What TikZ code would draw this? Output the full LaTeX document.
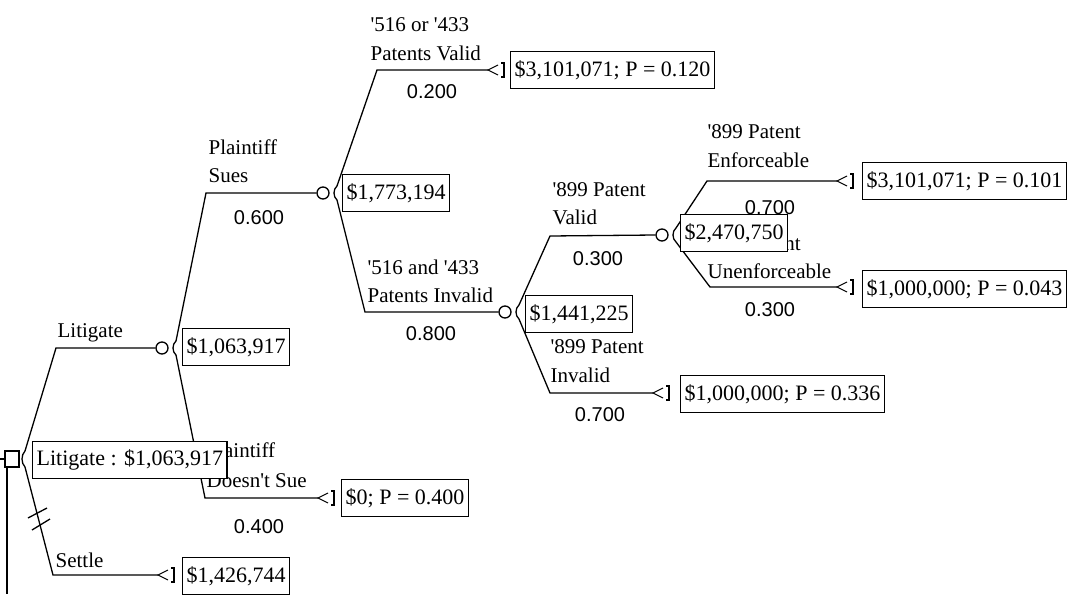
\documentclass[tikz,border=0pt]{standalone}
\usepackage{fontspec}
\setmainfont{Liberation Serif}
\newfontfamily\probfamily{Liberation Sans}
\newcommand\lblfont{\rmfamily\fontsize{21}{28}\selectfont}
\newcommand\valfont{\rmfamily\fontsize{22}{26}\selectfont}
\newcommand\pfont{\probfamily\fontsize{20}{24}\selectfont}
\newcommand\q{\textquotesingle}

\begin{document}
\begin{tikzpicture}[x=1pt,y=-1pt,line width=1.3pt,
  decision/.style={rectangle,draw,minimum width=14pt,minimum height=16pt,inner sep=0pt},
  chance/.style={circle,draw,minimum size=12pt,inner sep=0pt},
  valbox/.style={draw,fill=white,font=\valfont,inner xsep=4pt,inner ysep=0pt,minimum height=37pt,anchor=west},
  lbl/.style={font=\lblfont,inner sep=0pt,anchor=base west},
  prob/.style={font=\pfont,inner sep=0pt,anchor=base},
  termsym/.pic={
    \draw[line width=1.1pt] (10,-5) -- (0,0) -- (10,5);
    \draw[line width=1.1pt] (13,-7) -- (16,-7) -- (16,7) -- (13,7);
  }]
\useasboundingbox (0,0) rectangle (1078,594);

% ---------- decision node ----------
\node[decision] (D) at (12,459) {};
\coordinate (Din) at (0,459);
\coordinate (Dtail) at (7,594);
\draw (Din) -- (D.west);
\draw (D.south west -| Dtail) -- (Dtail);

\coordinate (f0a) at (25,451);
\coordinate (f0b) at (25,467);
\draw (f0a) .. controls (21,455) and (21,463) .. (f0b);
\coordinate (kLit) at (56,348);
\coordinate (kSet) at (53,575);
\coordinate (tSet) at (158,575);

% ---------- chance nodes ----------
\node[chance] (C1) at (162,348) {};
\node[chance] (C2) at (323,193) {};
\node[chance] (C3) at (505,312) {};
\node[chance] (C4) at (662,235) {};

% Litigate / Settle
\draw (f0a) -- (kLit) -- (C1.west);
\draw (f0b) -- (kSet) -- (tSet);
\pic at (tSet) {termsym};
\draw (28,518) -- (47,508);
\draw (32,530) -- (50,519);
\node[lbl] (lLit) at (57,337) {Litigate};
\node[lbl] (lSet) at (55,567) {Settle};

% Plaintiff sues / doesn't sue
\coordinate (f1a) at (176,341);
\coordinate (f1b) at (176,355);
\draw (f1a) .. controls (172,344) and (172,352) .. (f1b);
\coordinate (kSue) at (206,193);
\coordinate (kNo) at (205,498);
\coordinate (tNo) at (318,498);
\draw (f1a) -- (kSue) -- (C2.west);
\draw (f1b) -- (kNo) -- (tNo);
\pic at (tNo) {termsym};
\node[lbl] (lSue1) at (208,154) {Plaintiff};
\node[lbl] (lSue2) at (208,182) {Sues};
\node[prob] (pSue) at (259,224) {0.600};
\node[lbl] (lNo1) at (206,457) {Plaintiff};
\node[lbl] (lNo2) at (206,487) {Doesn\q t Sue};
\node[prob] (pNo) at (259,533) {0.400};

% '516 / '433 patents
\coordinate (f2a) at (337,186);
\coordinate (f2b) at (337,200);
\draw (f2a) .. controls (333,189) and (333,197) .. (f2b);
\coordinate (kPV) at (377,70);
\coordinate (kPI) at (365,312);
\coordinate (tPV) at (488,70);
\draw (f2a) -- (kPV) -- (tPV);
\pic at (tPV) {termsym};
\draw (f2b) -- (kPI) -- (C3.west);
\node[lbl] (lPV1) at (370,32) {\q516 or \q433};
\node[lbl] (lPV2) at (370,60) {Patents Valid};
\node[prob] (pPV) at (432,98) {0.200};
\node[lbl] (lPI1) at (367,274) {\q516 and \q433};
\node[lbl] (lPI2) at (367,302) {Patents Invalid};
\node[prob] (pPI) at (431,340) {0.800};

% '899 patent valid / invalid
\coordinate (f3a) at (519,305);
\coordinate (f3b) at (519,319);
\draw (f3a) .. controls (515,308) and (515,316) .. (f3b);
\coordinate (kVal) at (550,236);
\coordinate (kInv) at (550,393);
\coordinate (tInv) at (653,393);
\draw (f3a) -- (kVal) -- (C4.west);
\draw (f3b) -- (kInv) -- (tInv);
\pic at (tInv) {termsym};
\node[lbl] (lVal1) at (552,196) {\q899 Patent};
\node[lbl] (lVal2) at (552,224) {Valid};
\node[prob] (pVal) at (598,265) {0.300};
\node[lbl] (lInv1) at (550,353) {\q899 Patent};
\node[lbl] (lInv2) at (550,382) {Invalid};
\node[prob] (pInv) at (600,421) {0.700};

% '899 patent enforceable / unenforceable
\coordinate (f4a) at (676,228);
\coordinate (f4b) at (676,242);
\draw (f4a) .. controls (672,231) and (672,239) .. (f4b);
\coordinate (kEnf) at (707,181);
\coordinate (kUne) at (710,287);
\coordinate (tEnf) at (837,181);
\coordinate (tUne) at (837,287);
\draw (f4a) -- (kEnf) -- (tEnf);
\draw (f4b) -- (kUne) -- (tUne);
\pic at (tEnf) {termsym};
\pic at (tUne) {termsym};
\node[lbl] (lEnf1) at (707,138) {\q899 Patent};
\node[lbl] (lEnf2) at (707,167) {Enforceable};
\node[prob] (pEnf) at (770,214) {0.700};
\node[lbl] (lUne1) at (707,250) {\q899 Patent};
\node[lbl] (lUne2) at (707,278) {Unenforceable};
\node[prob] (pUne) at (770,316) {0.300};

% ---------- value boxes ----------
\node[valbox] (vC1) at (182,347) {\$1,063,917};
\node[valbox] (vC2) at (342,193) {\$1,773,194};
\node[valbox] (vC3) at (525,314) {\$1,441,225};
\node[valbox] (vC4) at (680,233) {\$2,470,750};
\node[valbox] (vPV) at (510,70) {\$3,101,071; P = 0.120};
\node[valbox] (vEnf) at (862,181) {\$3,101,071; P = 0.101};
\node[valbox] (vUne) at (862,289) {\$1,000,000; P = 0.043};
\node[valbox] (vInv) at (680,394) {\$1,000,000; P = 0.336};
\node[valbox] (vNo) at (341,498) {\$0; P = 0.400};
\node[valbox] (vSet) at (182,576) {\$1,426,744};
\node[valbox] (vD) at (32,460) {Litigate : \$1,063,917};
\end{tikzpicture}
\end{document}
